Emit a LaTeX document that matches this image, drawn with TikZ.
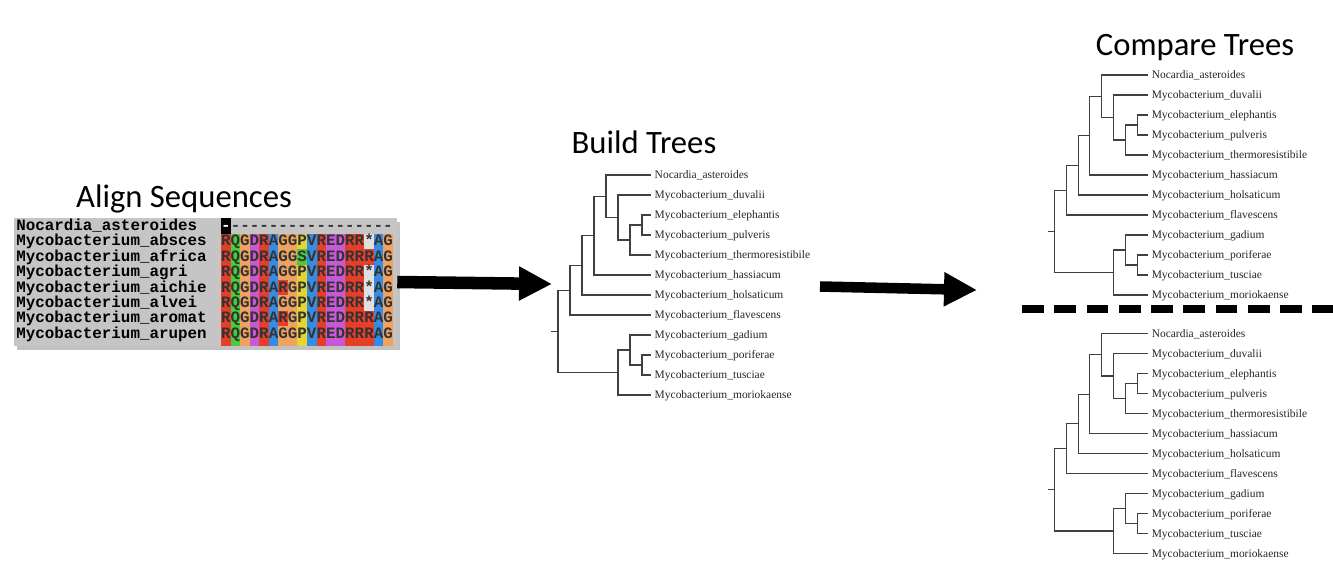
\documentclass[tikz,border=0pt]{standalone}
\usepackage{fontspec}
\newfontfamily\titlefont{Carlito}
\newfontfamily\treefont{Liberation Serif}
\newfontfamily\seqfont{Liberation Mono}
\usetikzlibrary{arrows.meta,shadows}

\definecolor{panelgray}{RGB}{197,197,197}
\definecolor{resR}{RGB}{231,62,42}
\definecolor{resQ}{RGB}{72,204,60}
\definecolor{resS}{RGB}{72,204,60}
\definecolor{resG}{RGB}{240,162,96}
\definecolor{resD}{RGB}{198,90,214}
\definecolor{resE}{RGB}{198,90,214}
\definecolor{resA}{RGB}{52,140,228}
\definecolor{resV}{RGB}{52,140,228}
\definecolor{resP}{RGB}{228,212,52}
\definecolor{resx}{RGB}{224,224,224}

\tikzset{
  title/.style={font=\titlefont\fontsize{24.5}{28}\selectfont, anchor=base, inner sep=0},
  leaf/.style={font=\treefont\fontsize{8.6}{10}\selectfont, text=black!85, anchor=base west,
    inner xsep=2.6pt, inner ysep=0, yshift=-2.9pt},
  branch/.style={draw=black!75, line width=0.85pt},
  panel/.style={fill=panelgray, minimum width=287.25pt, minimum height=96pt, inner sep=0,
    drop shadow={shadow xshift=2.5pt, shadow yshift=-3pt, opacity=0.4, fill=black!60}},
  seqname/.style={font=\seqfont\bfseries\fontsize{11.9}{14}\selectfont, anchor=base west, inner sep=0},
  residue/.style={font=\seqfont\bfseries\fontsize{11.9}{14}\selectfont, text=black!80, anchor=base, inner sep=0},
  bigarrow/.style={line width=#1, -{Triangle[length=24.75pt,width=24pt]}},
  separator/.style={line width=6pt, dash pattern=on 16.3pt off 7.9pt},
}

% one tree: prefix, x of deepest node, step, x of leaf tips, y of first leaf
\newcommand\drawtree[5]{%
  \foreach \name [count=\i from 0] in {Nocardia\_asteroides, Mycobacterium\_duvalii,
      Mycobacterium\_elephantis, Mycobacterium\_pulveris, Mycobacterium\_thermoresistibile,
      Mycobacterium\_hassiacum, Mycobacterium\_holsaticum, Mycobacterium\_flavescens,
      Mycobacterium\_gadium, Mycobacterium\_poriferae, Mycobacterium\_tusciae,
      Mycobacterium\_moriokaense}{
    \coordinate (#1-t\i) at (#4,{#5+20*\i});
    \node[leaf] (#1-l\i) at (#1-t\i) {\name};
  }
  \coordinate (#1-n4) at (#2,{#5+50});
  \coordinate (#1-n3) at ({#2-#3},{#5+65});
  \coordinate (#1-n2) at ({#2-2*#3},{#5+42.5});
  \coordinate (#1-n1) at ({#2-3*#3},{#5+21.25});
  \coordinate (#1-n5) at ({#2-4*#3},{#5+60.625});
  \coordinate (#1-n6) at ({#2-5*#3},{#5+90.31});
  \coordinate (#1-n7) at ({#2-6*#3},{#5+115.16});
  \coordinate (#1-d) at (#2,{#5+190});
  \coordinate (#1-c) at ({#2-#3},{#5+175});
  \coordinate (#1-b) at ({#2-2*#3},{#5+197.5});
  \coordinate (#1-root) at ({#2-7*#3},{#5+156.33});
  \coordinate (#1-stub) at ({#2-7.55*#3},{#5+156.33});
  \draw[branch] (#1-n4) |- (#1-t2) (#1-n4) |- (#1-t3);
  \draw[branch] (#1-n3) |- (#1-n4) (#1-n3) |- (#1-t4);
  \draw[branch] (#1-n2) |- (#1-t1) (#1-n2) |- (#1-n3);
  \draw[branch] (#1-n1) |- (#1-t0) (#1-n1) |- (#1-n2);
  \draw[branch] (#1-n5) |- (#1-n1) (#1-n5) |- (#1-t5);
  \draw[branch] (#1-n6) |- (#1-n5) (#1-n6) |- (#1-t6);
  \draw[branch] (#1-n7) |- (#1-n6) (#1-n7) |- (#1-t7);
  \draw[branch] (#1-d) |- (#1-t9) (#1-d) |- (#1-t10);
  \draw[branch] (#1-c) |- (#1-t8) (#1-c) |- (#1-d);
  \draw[branch] (#1-b) |- (#1-c) (#1-b) |- (#1-t11);
  \draw[branch] (#1-root) |- (#1-n7) (#1-root) |- (#1-b);
  \draw[branch] (#1-stub) -- (#1-root);
}

\begin{document}
\begin{tikzpicture}[x=0.75pt,y=-0.75pt]
\useasboundingbox (0,0) rectangle (1333,583);

% titles
\node[title] (t-align) at (184,207) {Align Sequences};
\node[title] (t-build) at (644,153) {Build Trees};
\node[title] (t-compare) at (1195,55) {Compare Trees};

% alignment panel
\node[panel] (align) at (205.5,282) {};
\fill[black] (221,218) rectangle (230.55,233.7);
\node[residue, text=white] (gap-0) at (225.8,230.5) {-};
\node[seqname] (name-0) at (16,230.5) {Nocardia\_asteroides};
\node[residue, anchor=base west] (dash-0) at (230.55,230.5) {-----------------};
\foreach \nm/\seq [count=\r] in {
    absces/{R,Q,G,D,R,A,G,G,P,V,R,E,D,R,R,x,A,G},
    africa/{R,Q,G,D,R,A,G,G,S,V,R,E,D,R,R,R,A,G},
    agri/{R,Q,G,D,R,A,G,G,P,V,R,E,D,R,R,x,A,G},
    aichie/{R,Q,G,D,R,A,R,G,P,V,R,E,D,R,R,x,A,G},
    alvei/{R,Q,G,D,R,A,G,G,P,V,R,E,D,R,R,x,A,G},
    aromat/{R,Q,G,D,R,A,R,G,P,V,R,E,D,R,R,R,A,G},
    arupen/{R,Q,G,D,R,A,G,G,P,V,R,E,D,R,R,R,A,G}}{
  \node[seqname] (name-\r) at (16,{226+15.4*\r+4.5}) {Mycobacterium\_\nm};
  \foreach \c [count=\j] in \seq {
    \fill[res\c] ({221+9.55*(\j-1)},{226+15.4*\r-7.7}) rectangle ++(9.55,15.4);
    \node[residue] (res-\r-\j) at ({221+9.55*(\j-1)+4.775},{226+15.4*\r+4.5})
      {\if x\c *\else\c\fi};
  }
}
% colours of the cut-off row below
\foreach \c [count=\j] in {R,Q,G,D,R,A,G,G,P,V,R,E,D,R,R,R,A,G}
  \fill[res\c] ({221+9.55*(\j-1)},341.5) rectangle ++(9.55,4.5);

% trees
\drawtree{bt}{642}{12}{651}{175}
\drawtree{ct}{1137.3}{11.85}{1148}{75}
\drawtree{cb}{1137.3}{11.85}{1148}{333.5}

% arrows and separator
\coordinate (tip1) at (552,284);
\coordinate (tail2) at (820,286.5);
\coordinate (tip2) at (977,290);
\draw[bigarrow=9.4pt] (align.east) -- (tip1);
\draw[bigarrow=7.9pt] (tail2) -- (tip2);
\coordinate (sep-l) at (1022,309);
\coordinate (sep-r) at (1333,309);
\draw[separator] (sep-l) -- (sep-r);
\end{tikzpicture}
\end{document}
